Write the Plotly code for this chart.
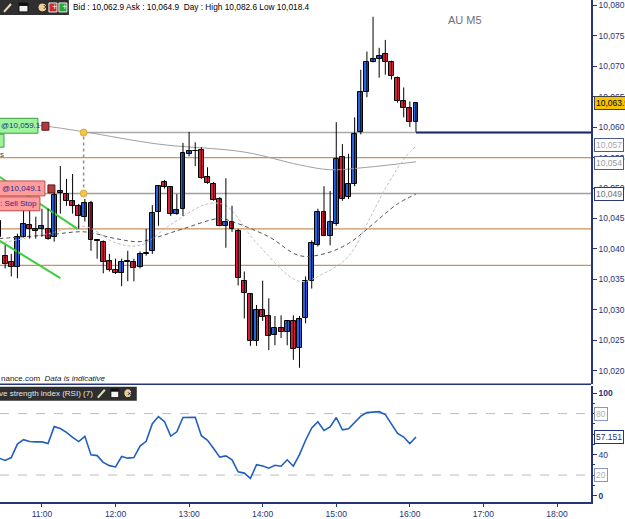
import plotly.graph_objects as go
import pandas as pd

DAY = '2011-01-03 '
times = pd.date_range(pd.Timestamp(DAY + '10:25'), periods=69, freq='5min')

opens = [10044.6, 10038.9, 10037.8, 10037.1, 10042.0, 10044.0, 10043.3, 10043.2, 10043.3, 10042.0,
         10049.5, 10049.0, 10047.9, 10047.1, 10045.3, 10047.6, 10041.4, 10041.2, 10038.1, 10036.5,
         10036.1, 10037.9, 10037.9, 10037.1, 10039.2, 10039.6, 10046.1, 10051.0, 10050.2, 10045.8,
         10046.6, 10055.6, 10056.1, 10056.2, 10051.8, 10050.7, 10048.2, 10043.8, 10044.5, 10043.0,
         10034.8, 10032.6, 10024.9, 10030.0, 10029.0, 10025.9, 10027.0, 10026.4, 10028.2, 10023.7,
         10028.6, 10034.8, 10040.7, 10046.1, 10042.2, 10044.1, 10055.1, 10048.5, 10050.7, 10059.2,
         10065.8, 10070.7, 10071.1, 10072.0, 10070.6, 10068.1, 10064.2, 10063.1, 10060.9]
highs = [10045.3, 10040.6, 10039.2, 10042.5, 10046.6, 10046.3, 10045.3, 10046.6, 10046.6, 10049.2,
         10053.6, 10051.5, 10052.3, 10047.4, 10048.2, 10047.9, 10041.5, 10041.4, 10039.2, 10038.4,
         10038.4, 10039.7, 10038.4, 10039.6, 10043.3, 10047.2, 10050.5, 10051.3, 10050.3, 10049.0,
         10057.4, 10059.2, 10057.5, 10056.7, 10053.4, 10051.0, 10048.5, 10051.6, 10047.1, 10043.3,
         10036.3, 10032.7, 10030.8, 10034.8, 10031.9, 10029.0, 10029.1, 10028.3, 10029.1, 10029.0,
         10035.5, 10041.4, 10046.6, 10050.3, 10049.5, 10060.8, 10057.2, 10055.6, 10061.6, 10069.4,
         10072.4, 10078.1, 10073.0, 10074.3, 10070.9, 10068.3, 10066.5, 10064.2, 10064.0]
lows = [10040.9, 10036.8, 10035.5, 10035.2, 10041.9, 10041.7, 10041.7, 10042.0, 10041.5, 10041.2,
        10045.8, 10047.1, 10045.8, 10043.3, 10044.5, 10039.7, 10038.4, 10036.0, 10036.3, 10035.9,
        10033.9, 10034.7, 10034.7, 10036.8, 10038.9, 10039.2, 10043.8, 10049.9, 10045.4, 10045.6,
        10045.4, 10055.2, 10053.6, 10051.5, 10050.7, 10047.9, 10043.7, 10040.2, 10042.8, 10034.0,
        10028.6, 10024.1, 10024.1, 10028.2, 10023.4, 10024.2, 10025.4, 10024.2, 10021.8, 10020.5,
        10027.8, 10033.5, 10040.4, 10042.1, 10040.6, 10043.8, 10047.9, 10048.2, 10050.3, 10058.8,
        10064.9, 10070.6, 10068.1, 10068.6, 10067.8, 10064.0, 10061.6, 10060.0, 10059.2]
closes = [10042.0, 10037.6, 10037.1, 10042.0, 10044.1, 10043.2, 10043.0, 10043.7, 10041.7, 10048.9,
          10049.2, 10047.9, 10047.1, 10045.4, 10047.6, 10041.4, 10041.3, 10037.9, 10036.5, 10036.0,
          10037.9, 10038.0, 10036.8, 10039.2, 10039.3, 10045.9, 10050.3, 10050.2, 10045.8, 10046.4,
          10055.7, 10056.1, 10056.0, 10051.6, 10050.8, 10048.1, 10043.8, 10044.5, 10043.3, 10035.2,
          10032.7, 10024.9, 10030.0, 10028.8, 10025.7, 10027.0, 10026.4, 10028.2, 10023.6, 10028.5,
          10034.8, 10040.9, 10046.1, 10042.2, 10044.5, 10054.7, 10048.2, 10050.7, 10058.8, 10065.8,
          10070.7, 10071.2, 10071.7, 10070.7, 10068.3, 10064.2, 10063.2, 10060.9, 10063.9]

rsi = [36.5, 34.3, 37.1, 50.2, 54.6, 52.7, 52.4, 52.4, 50.8, 67.3,
       65.4, 61.6, 56.8, 52.7, 57.8, 39.7, 39.0, 32.4, 29.2, 27.9,
       38.1, 36.5, 37.1, 48.3, 53.0, 70.2, 77.1, 72.1, 58.1, 62.2,
       76.2, 76.2, 76.5, 58.4, 54.0, 46.0, 37.5, 38.7, 34.9, 23.2,
       21.9, 16.8, 30.2, 28.9, 26.7, 29.5, 28.6, 34.9, 28.6, 40.0,
       54.0, 66.0, 72.1, 63.5, 67.0, 76.2, 64.1, 65.1, 71.7, 77.5,
       81.0, 81.6, 81.9, 79.0, 69.8, 60.6, 57.1, 50.8, 57.151]

ma_short_t = ['10:25', '11:05', '11:35', '12:00', '12:20', '12:45', '13:15', '13:30',
              '13:55', '14:30', '14:50', '15:10', '15:25', '15:40', '15:55', '16:05']
ma_short = [10040.9, 10042.5, 10043.7, 10041.0, 10040.6, 10044.0, 10047.4, 10047.1,
            10041.0, 10034.7, 10036.0, 10038.8, 10044.1, 10049.9, 10054.7, 10056.9]
ma_mid_t = ['10:25', '11:05', '11:35', '12:00', '12:20', '12:35', '12:55', '13:25',
            '13:35', '14:05', '14:30', '14:50', '15:10', '15:30', '15:50', '16:05']
ma_mid = [10041.7, 10042.3, 10042.8, 10041.7, 10041.2, 10042.0, 10043.3, 10045.0,
          10044.5, 10042.0, 10038.9, 10039.2, 10040.9, 10044.1, 10047.4, 10049.0]
ma_long_t = ['10:25', '11:05', '11:35', '12:35', '13:45', '14:30', '14:55', '15:25', '16:05']
ma_long = [10060.9, 10060.1, 10059.2, 10057.2, 10055.9, 10053.8, 10053.0, 10053.4, 10054.3]

green1_t = ['10:25', '11:29']
green1 = [10051.9, 10043.3]
green2_t = ['10:25', '11:15']
green2 = [10041.4, 10035.2]

tan_levels = [10055.0, 10043.3, 10037.3]
buy_limit = 10059.1
sell_stop = 10049.1
order_time = '11:34'

price_ticks = list(range(10020, 10081, 5))
rsi_ticks = [0, 20, 40, 60, 80, 100]
rsi_ticktext = ['<b>0</b>', '', '40', '', '', '<b>100</b>']
rsi_levels = [80, 20]

X_START = DAY + '10:25:48'
X_END = DAY + '18:27:46'

W, H = 625, 519
def px(x): return x / W
def py(y): return 1 - y / H

NAVY = '#24357c'
FONT = 'Liberation Sans, Arial, sans-serif'
BLUE = '#2a62dc'
RED = '#dc1e3c'

fig = go.Figure()

fig.add_trace(go.Scatter(x=[DAY + t for t in ma_long_t], y=ma_long, mode='lines',
                         line=dict(color='#a0a0a0', width=1, shape='spline'),
                         xaxis='x', yaxis='y', hoverinfo='skip', showlegend=False))
fig.add_trace(go.Scatter(x=[DAY + t for t in ma_mid_t], y=ma_mid, mode='lines',
                         line=dict(color='#555555', width=1, dash='4px,3px', shape='spline'),
                         xaxis='x', yaxis='y', hoverinfo='skip', showlegend=False))
fig.add_trace(go.Scatter(x=[DAY + t for t in ma_short_t], y=ma_short, mode='lines',
                         line=dict(color='#c0c0c0', width=1, dash='3px,2px', shape='spline'),
                         xaxis='x', yaxis='y', hoverinfo='skip', showlegend=False))
for gt, gv in [(green1_t, green1), (green2_t, green2)]:
    fig.add_trace(go.Scatter(x=[DAY + t for t in gt], y=gv, mode='lines',
                             line=dict(color='#3ccf3c', width=2),
                             xaxis='x', yaxis='y', hoverinfo='skip', showlegend=False))

# candle wicks
wx, wy = [], []
for t, hi, lo in zip(times, highs, lows):
    wx += [t, t, None]
    wy += [lo, hi, None]
fig.add_trace(go.Scatter(x=wx, y=wy, mode='lines', line=dict(color='#000000', width=1),
                         xaxis='x', yaxis='y', hoverinfo='skip', showlegend=False))
# candle bodies
for up, col in [(True, BLUE), (False, RED)]:
    bx, bbase, bh = [], [], []
    for t, o, c in zip(times, opens, closes):
        if (c >= o) == up:
            bx.append(t)
            bbase.append(min(o, c))
            bh.append(max(abs(c - o), 0.12))
    fig.add_trace(go.Bar(x=bx, y=bh, base=bbase, width=240000,
                         marker=dict(color=col, line=dict(color='#000000', width=1)),
                         xaxis='x', yaxis='y', hoverinfo='skip', showlegend=False))

fig.add_trace(go.Scatter(x=[DAY + order_time, DAY + order_time], y=[buy_limit, sell_stop],
                         mode='markers', marker=dict(color='#f3c54e', size=7,
                                                     line=dict(color='#d9a93a', width=1)),
                         xaxis='x', yaxis='y', hoverinfo='skip', showlegend=False))

fig.add_trace(go.Scatter(x=times, y=rsi, mode='lines', line=dict(color='#1f5fbf', width=1.6),
                         xaxis='x', yaxis='y2', hoverinfo='skip', showlegend=False))

shapes = []
for lv in tan_levels:
    shapes.append(dict(type='line', xref='paper', yref='y', x0=0, x1=px(592), y0=lv, y1=lv,
                       line=dict(color='#c8925c', width=1.2), layer='below'))
shapes.append(dict(type='line', xref='x', yref='y', x0=DAY + order_time, x1=X_END,
                   y0=buy_limit, y1=buy_limit, line=dict(color='#a8a8a8', width=1.5), layer='below'))
shapes.append(dict(type='line', xref='x', yref='y', x0=DAY + '10:58', x1=X_END,
                   y0=sell_stop, y1=sell_stop, line=dict(color='#a0a0a0', width=1.5), layer='below'))
shapes.append(dict(type='line', xref='x', yref='y', x0=DAY + order_time, x1=DAY + order_time,
                   y0=sell_stop, y1=buy_limit, line=dict(color='#909090', width=1.5, dash='dot'),
                   layer='below'))
shapes.append(dict(type='line', xref='x', yref='y', x0=times[-1], x1=X_END,
                   y0=buy_limit, y1=buy_limit, line=dict(color='#1a2870', width=2)))
for lv in rsi_levels:
    shapes.append(dict(type='line', xref='paper', yref='y2', x0=0, x1=px(592), y0=lv, y1=lv,
                       line=dict(color='#bcbcbc', width=1, dash='dash'), layer='below'))
# panel separator
shapes.append(dict(type='line', xref='paper', yref='paper', x0=0, x1=px(592),
                   y0=py(386.5), y1=py(386.5), line=dict(color=NAVY, width=1.5)))

def rect(x0, y0, x1, y1, fill, line='rgba(0,0,0,0)', lw=1):
    shapes.append(dict(type='rect', xref='paper', yref='paper', x0=px(x0), x1=px(x1),
                       y0=py(y1), y1=py(y0), fillcolor=fill, line=dict(color=line, width=lw)))

def pline(x0, y0, x1, y1, color, lw=1):
    shapes.append(dict(type='line', xref='paper', yref='paper', x0=px(x0), x1=px(x1),
                       y0=py(y0), y1=py(y1), line=dict(color=color, width=lw)))

def circ(x0, y0, x1, y1, fill, line):
    shapes.append(dict(type='circle', xref='paper', yref='paper', x0=px(x0), x1=px(x1),
                       y0=py(y1), y1=py(y0), fillcolor=fill, line=dict(color=line, width=1)))

# top toolbar
rect(0, 0, 69, 15, '#2f2f2f')
pline(4, 12, 11, 4, '#e6dcb4', 2)
rect(19, 3, 28, 12, '#f2f2f2', '#111')
rect(19, 3, 28, 6, '#111')
circ(38, 3, 47, 12, '#e9cf98', '#222')
rect(49, 3, 57, 12, '#cc2a2a', '#eeeeee')
rect(59, 3, 67, 12, '#2ea52e', '#eeeeee')
# RSI header bar
rect(0, 389, 137, 403, '#2f2f2f')
pline(98, 400, 105, 392, '#e6dcb4', 2)
rect(111, 391, 119, 400, '#f2f2f2', '#111')
rect(111, 391, 119, 394, '#111')
circ(124, 391, 132, 400, '#e9cf98', '#222')
# order label boxes
rect(-3, 119, 38, 134, '#9cf59c', '#3e9e3e')
rect(-3, 135, 4, 148, '#9cf59c', '#3e9e3e')
rect(42, 123, 49, 131, '#b33a3a', '#5a1a1a')
rect(-3, 182, 45, 197, '#ff9c9c', '#c84a4a')
rect(-3, 198, 40, 212, '#ff9c9c', '#c84a4a')
rect(48, 186, 55, 194, '#b33a3a', '#5a1a1a')

annotations = []
def text(x, y, s, size=8, color='#000', xanchor='left', **kw):
    annotations.append(dict(xref='paper', yref='paper', x=px(x), y=py(y), text=s,
                            showarrow=False, xanchor=xanchor, yanchor='middle',
                            font=dict(family=FONT, size=size, color=color), **kw))

text(71, 7.5, 'Bid : 10,062.9 Ask : 10,064.9  Day : High 10,082.6 Low 10,018.4', size=8.3)
text(447, 20, 'AU M5', size=11, color='#707070')
text(41, 7.5, '×', size=9, color='#222')
text(50.5, 7, '+', size=9, color='#fff')
text(60.5, 7, '+', size=9, color='#fff')
text(125.5, 395.5, '×', size=8, color='#222')
text(-3, 396, 've strength index (RSI) (7)', size=8, color='#e4e4e4')
text(-1, 381, 'nance.com  <i>Data is indicative</i>', size=8, color='#222')
text(-1, 126.5, '@10,059.1', size=8, color='#2a2a8a')
text(-2, 155, 's', size=8, color='#333')
text(0, 189.5, '@10,049.1', size=8, color='#2a2a8a')
text(-2, 205, ': Sell Stop', size=8, color='#2a2a8a')

def axbox(yref, yv, s, bg, border, color):
    annotations.append(dict(xref='paper', yref=yref, x=px(595), y=yv, text=s, showarrow=False,
                            xanchor='left', yanchor='middle', bgcolor=bg, bordercolor=border,
                            borderwidth=1, borderpad=1,
                            font=dict(family=FONT, size=8.5, color=color)))

axbox('y', 10063.9, '10,063.9', '#f6c400', '#444', '#000')
axbox('y', 10057.0, '10,057', '#ffffff', '#4a5a9a', '#a8a8a8')
axbox('y', 10054.1, '10,054', '#ffffff', '#4a5a9a', '#999999')
axbox('y', 10049.1, '10,049', '#ffffff', '#2a3a7a', '#707070')
axbox('y2', 80, '80', '#ffffff', '#8a96c0', '#b0b0b0')
axbox('y2', 57.151, '57.151', '#ffffff', NAVY, NAVY)
axbox('y2', 20, '20', '#ffffff', '#8a96c0', '#b0b0b0')

fig.update_layout(
    width=W, height=H, margin=dict(l=0, r=0, t=0, b=0),
    paper_bgcolor='white', plot_bgcolor='white', showlegend=False,
    barmode='overlay', bargap=0,
    font=dict(family=FONT, color=NAVY),
    xaxis=dict(domain=[0, px(592)], range=[X_START, X_END], anchor='y2', type='date',
               tickformat='%H:%M', dtick=3600000, tick0=DAY + '11:00', ticks='outside',
               ticklen=3, tickcolor=NAVY, showline=True, linecolor=NAVY, linewidth=1.5,
               showgrid=False, zeroline=False, tickfont=dict(size=8.5, color=NAVY)),
    yaxis=dict(domain=[py(386), 1], anchor='x', side='right', range=[10017.88, 10080.85],
               tickvals=price_ticks, tickformat=',d', ticks='outside', ticklen=4,
               tickcolor=NAVY, showline=True, linecolor=NAVY, linewidth=1.5, showgrid=False,
               zeroline=False, tickfont=dict(size=8.5, color=NAVY)),
    yaxis2=dict(domain=[py(505), py(388)], anchor='x', side='right', range=[-6.4, 107.2],
                tickvals=rsi_ticks, ticktext=rsi_ticktext,
                ticks='outside', ticklen=4, tickcolor=NAVY, showline=True, linecolor=NAVY,
                linewidth=1.5, showgrid=False, zeroline=False,
                minor=dict(dtick=10, ticks='outside', ticklen=2, tickcolor=NAVY),
                tickfont=dict(size=8.5, color=NAVY)),
    shapes=shapes, annotations=annotations,
)

fig.write_html('out.html')
